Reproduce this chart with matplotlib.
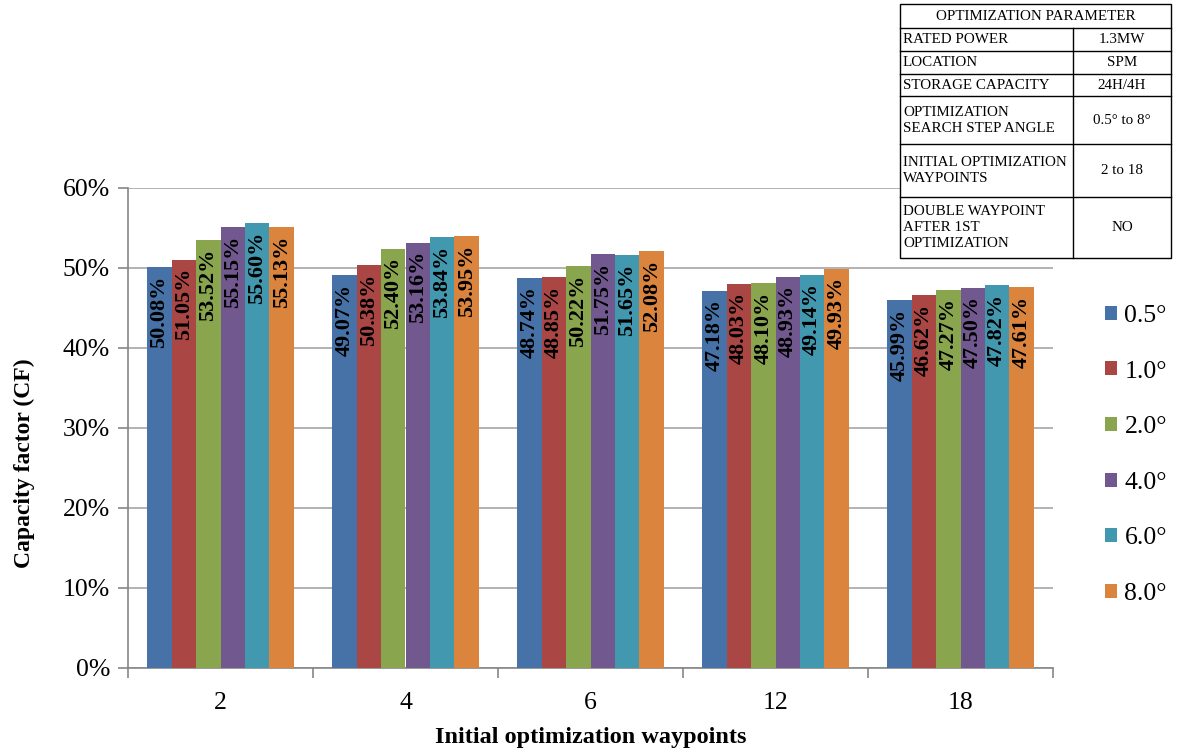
import matplotlib
matplotlib.use("Agg")
import matplotlib.pyplot as plt
import numpy as np
from matplotlib.patches import Rectangle
from matplotlib.ticker import FuncFormatter, FixedLocator

plt.rcParams['font.family'] = ['Liberation Serif', 'DejaVu Serif']

categories = ['2', '4', '6', '12', '18']
series_names = ['0.5°', '1.0°', '2.0°', '4.0°', '6.0°', '8.0°']
cf_05 = [50.08, 49.07, 48.74, 47.18, 45.99]
cf_10 = [51.05, 50.38, 48.85, 48.03, 46.62]
cf_20 = [53.52, 52.40, 50.22, 48.10, 47.27]
cf_40 = [55.15, 53.16, 51.75, 48.93, 47.50]
cf_60 = [55.60, 53.84, 51.65, 49.14, 47.82]
cf_80 = [55.13, 53.95, 52.08, 49.93, 47.61]
series = [cf_05, cf_10, cf_20, cf_40, cf_60, cf_80]
colors = ['#4672A8', '#AA4643', '#89A54E', '#71588F', '#4198AF', '#DB843D']

table_rows = [
    ('RATED POWER', '1.3MW'),
    ('LOCATION', 'SPM'),
    ('STORAGE CAPACITY', '24H/4H'),
    ('OPTIMIZATION\nSEARCH STEP ANGLE', '0.5° to 8°'),
    ('INITIAL OPTIMIZATION\nWAYPOINTS', '2 to 18'),
    ('DOUBLE WAYPOINT\nAFTER 1ST\nOPTIMIZATION', 'NO'),
]
table_title = 'OPTIMIZATION PARAMETER'

W, H = 1178, 753
fig = plt.figure(figsize=(W / 100, H / 100), dpi=100)
ax = fig.add_axes([128 / W, 1 - 668 / H, 925 / W, 480 / H])

x = np.arange(len(categories))
bw = 0.1324
for i, (vals, c, name) in enumerate(zip(series, colors, series_names)):
    xs = x + (i - 2.5) * bw
    ax.bar(xs, vals, width=bw, color=c, label=name, zorder=3)
    for xi, v in zip(xs, vals):
        ax.annotate('%.2f%%' % v, (xi, v), xytext=(0, -6), textcoords='offset points',
                    rotation=90, ha='center', va='top', fontsize=16,
                    fontweight='bold', color='black', zorder=4)

ax.set_xlim(-0.5, len(categories) - 0.5)
ax.set_ylim(0, 60)
ax.set_yticks(np.arange(0, 61, 10))
ax.yaxis.set_major_formatter(FuncFormatter(lambda v, p: '%d%%' % v))
ax.grid(axis='y', color='#a6a6a6', linewidth=1.2, zorder=0)
ax.set_xticks(x)
ax.set_xticklabels(categories)
ax.xaxis.set_minor_locator(FixedLocator(np.arange(-0.5, len(categories), 1.0)))
ax.tick_params(axis='x', which='major', length=0, labelsize=18.5, pad=17)
ax.tick_params(axis='x', which='minor', length=7, color='#868686', width=1.2)
ax.tick_params(axis='y', length=7, color='#868686', width=1.2, labelsize=18.5, pad=6)
for s in ['top', 'right']:
    ax.spines[s].set_visible(False)
for s in ['left', 'bottom']:
    ax.spines[s].set_color('#868686')
    ax.spines[s].set_linewidth(1.2)

ax.set_ylabel('Capacity factor (CF)', fontsize=17, fontweight='bold')
ax.yaxis.set_label_coords(-0.10, 0.427)
ax.set_xlabel('Initial optimization waypoints', fontsize=17.5, fontweight='bold')
ax.xaxis.set_label_coords(0.5, -0.122)

ax.legend(loc='center left', bbox_to_anchor=(1082 / W, 1 - 455 / H),
          bbox_transform=fig.transFigure, frameon=False, fontsize=18.5,
          handlelength=0.45, handleheight=0.45, handletextpad=0.3,
          labelspacing=1.31)

# parameter table, drawn in pixel coordinates
tax = fig.add_axes([0, 0, 1, 1], facecolor='none')
tax.set_xlim(0, W)
tax.set_ylim(H, 0)
tax.axis('off')
x0, x1, x2 = 900, 1073, 1171
row_edges = [4, 28, 51, 74, 96, 144, 197, 258]
tax.add_patch(Rectangle((x0, row_edges[0]), x2 - x0, row_edges[-1] - row_edges[0],
                        facecolor='white', edgecolor='black', linewidth=1, zorder=5))
for y in row_edges[1:-1]:
    tax.plot([x0, x2], [y, y], color='black', linewidth=1, zorder=6)
tax.plot([x1, x1], [row_edges[1], row_edges[-1]], color='black', linewidth=1, zorder=6)
tax.text((x0 + x2) / 2, (row_edges[0] + row_edges[1]) / 2, table_title,
         ha='center', va='center', fontsize=10.8, zorder=7)
for k, (left, right) in enumerate(table_rows):
    yc = (row_edges[k + 1] + row_edges[k + 2]) / 2
    tax.text(x0 + 3, yc, left, ha='left', va='center', fontsize=10.8,
             linespacing=1.3, zorder=7)
    tax.text((x1 + x2) / 2, yc, right, ha='center', va='center', fontsize=10.8, zorder=7)

fig.savefig('out.png', dpi=100)
